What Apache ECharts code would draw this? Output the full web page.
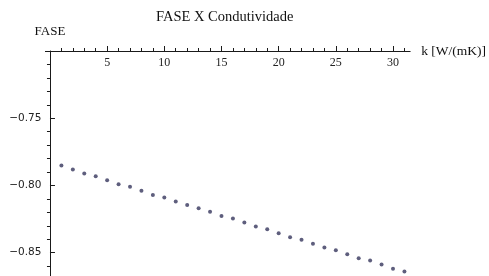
<!DOCTYPE html>
<html>
<head>
<meta charset="utf-8">
<script src="https://cdn.jsdelivr.net/npm/echarts@6/dist/echarts.min.js"></script>
<style>
	html, body { margin: 0; padding: 0; background: #fff; }
	#chart { width: 489px; height: 276px; }
</style>
</head>
<body>
<div id="chart"></div>
<script>
	// 数据
	var kValues = [1, 2, 3, 4, 5, 6, 7, 8, 9, 10, 11, 12, 13, 14, 15, 16, 17, 18, 19, 20, 21, 22, 23, 24, 25, 26, 27, 28, 29, 30, 31];
	var faseValues = [-0.7852, -0.7881, -0.7911, -0.7931, -0.7961, -0.7990, -0.8010, -0.8040, -0.8070, -0.8089,
		-0.8119, -0.8146, -0.8169, -0.8196, -0.8226, -0.8246, -0.8275, -0.8305, -0.8325, -0.8355,
		-0.8384, -0.8404, -0.8434, -0.8461, -0.8481, -0.8511, -0.8541, -0.8558, -0.8588, -0.8620, -0.8640];
	var xMajorTicks = [5, 10, 15, 20, 25, 30];
	var xMinorTicks = [1, 2, 3, 4, 6, 7, 8, 9, 11, 12, 13, 14, 16, 17, 18, 19, 21, 22, 23, 24, 26, 27, 28, 29, 31];
	var yMajorTicks = [-0.85, -0.80, -0.75];
	var yMinorTicks = [-0.86, -0.84, -0.83, -0.82, -0.81, -0.79, -0.78, -0.77, -0.76, -0.74, -0.73, -0.72, -0.71];

	//合并配置
	function extend(a, b, c) {
		var k;
		for (k in b) a[k] = b[k];
		for (k in c) a[k] = c[k];
		return a;
	}

	var points = [];
	for (var i = 0; i < kValues.length; i++) {
		points.push([kValues[i], faseValues[i]]);
	}

	var SERIF = '"Liberation Serif", "DejaVu Serif", serif';
	var SANS = '"DejaVu Sans", sans-serif';
	var lineStyle = { color: '#1a1a1a', width: 1 };

	var xBase = { type: 'value', position: 'top', min: -0.4, max: 31.5, splitLine: { show: false } };
	var yBase = { type: 'value', min: -0.8673, max: -0.70, splitLine: { show: false } };

	var option = {
		animation: false,
		title: {
			text: 'FASE X Condutividade', left: 151, top: 5,
			textStyle: { fontFamily: SERIF, fontSize: 14.5, fontWeight: 'normal', color: '#111' }
		},
		grid: { left: 45.4, right: 77.7, top: 51, bottom: 0 },
		xAxis: [
			extend({}, xBase, {
				name: 'k [W/(mK)]', nameLocation: 'end', nameGap: 11,
				nameTextStyle: { fontFamily: SERIF, fontSize: 13.5, color: '#111' },
				axisLine: { onZero: false, lineStyle: lineStyle },
				axisTick: { inside: false, length: 5, customValues: xMajorTicks, lineStyle: lineStyle },
				axisLabel: { inside: true, customValues: xMajorTicks, fontFamily: SERIF, fontSize: 12, color: '#222', margin: 6 }
			}),
			extend({}, xBase, {
				axisLine: { show: false, onZero: false },
				axisTick: { inside: false, length: 3, customValues: xMinorTicks, lineStyle: lineStyle },
				axisLabel: { show: false }
			})
		],
		yAxis: [
			extend({}, yBase, {
				name: 'FASE', nameLocation: 'end', nameGap: 13,
				nameTextStyle: { fontFamily: SERIF, fontSize: 13, color: '#111' },
				axisLine: { onZero: true, lineStyle: lineStyle },
				axisTick: { inside: true, length: 5, customValues: yMajorTicks, lineStyle: lineStyle },
				axisLabel: {
					customValues: yMajorTicks, fontFamily: SANS, fontSize: 10.5, color: '#222', margin: 4,
					formatter: function (v) { return (v < 0 ? '\u2212' : '') + Math.abs(v).toFixed(2); }
				}
			}),
			extend({}, yBase, {
				axisLine: { show: false, onZero: true },
				axisTick: { inside: true, length: 3, customValues: yMinorTicks, lineStyle: lineStyle },
				axisLabel: { show: false }
			})
		],
		series: [{
			type: 'scatter', data: points, xAxisIndex: 0, yAxisIndex: 0,
			symbol: 'circle', symbolSize: 4,
			itemStyle: { color: '#36365c' }
		}]
	};

	var myChart = echarts.init(document.getElementById('chart'), null, { renderer: 'canvas' });
	myChart.setOption(option);
</script>
</body>
</html>
